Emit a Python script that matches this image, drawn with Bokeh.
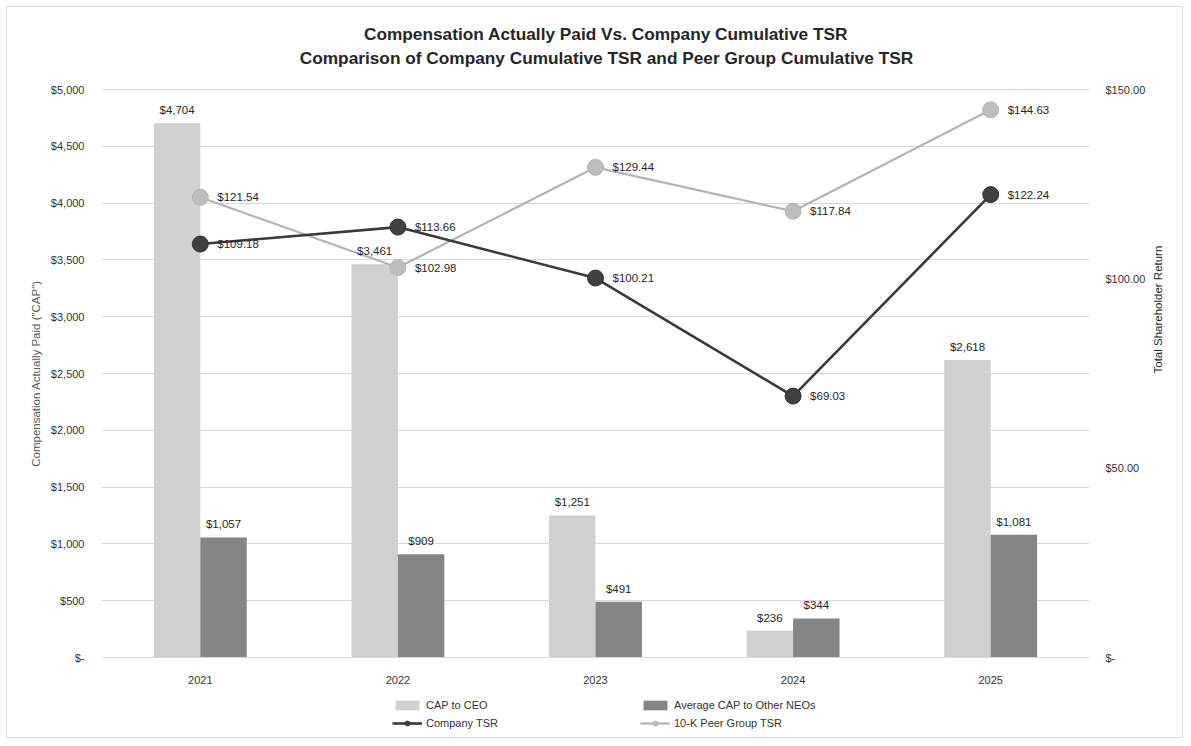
import math
from bokeh.plotting import figure
from bokeh.models import (ColumnDataSource, FactorRange, Range1d, LinearAxis, FixedTicker,
                          CustomJSTickFormatter, Legend, LegendItem, Label, LabelSet)
from bokeh.transform import dodge
from bokeh.core.properties import value
from bokeh.embed import file_html
from bokeh.resources import INLINE

# ---- data ----
years = ["2021", "2022", "2023", "2024", "2025"]
cap_ceo = [4704, 3461, 1251, 236, 2618]
cap_neo = [1057, 909, 491, 344, 1081]
company_tsr = [109.18, 113.66, 100.21, 69.03, 122.24]
peer_tsr = [121.54, 102.98, 129.44, 117.84, 144.63]
left_ticks = [0, 500, 1000, 1500, 2000, 2500, 3000, 3500, 4000, 4500, 5000]
right_ticks = [0, 50, 100, 150]
title_1 = "Compensation Actually Paid Vs. Company Cumulative TSR"
title_2 = "Comparison of Company Cumulative TSR and Peer Group Cumulative TSR"

FONT = "Liberation Sans, Arial, sans-serif"
C_CEO, C_NEO = "#d0d0d0", "#858585"
C_COMP, C_COMP_M = "#3a3a3a", "#404040"
C_PEER, C_PEER_M = "#b4b4b4", "#bdbdbd"

# ---- layout geometry (pixels) ----
W, H = 1177, 732
FR_TOP, FR_BOT = 0, 732          # frame spans whole inner height
Y0_PX, YMAX_PX = 650, 82         # where 0 and the top tick sit inside the figure
px_per_left = (Y0_PX - YMAX_PX) / left_ticks[-1]
px_per_right = (Y0_PX - YMAX_PX) / right_ticks[-1]
left_lo = -(FR_BOT - Y0_PX) / px_per_left
left_hi = left_ticks[-1] + (YMAX_PX - FR_TOP) / px_per_left
right_lo = -(FR_BOT - Y0_PX) / px_per_right
right_hi = right_ticks[-1] + (YMAX_PX - FR_TOP) / px_per_right

src = ColumnDataSource(dict(
    years=years, cap_ceo=cap_ceo, cap_neo=cap_neo,
    company_tsr=company_tsr, peer_tsr=peer_tsr,
    ceo_lbl=[f"${v:,}" for v in cap_ceo],
    neo_lbl=[f"${v:,}" for v in cap_neo],
    comp_lbl=[f"${v:.2f}" for v in company_tsr],
    peer_lbl=[f"${v:.2f}" for v in peer_tsr],
))

p = figure(width=W, height=H, x_range=FactorRange(*years, range_padding=0),
           y_range=Range1d(left_lo, left_hi), output_backend="svg", toolbar_location=None,
           min_border_left=94, min_border_right=95, min_border_top=0, min_border_bottom=0)
p.styles = {"margin": "6px", "border": "1px solid #d9d9d9"}
p.outline_line_color = None
p.background_fill_color = "white"
p.border_fill_color = "white"
p.extra_y_ranges = {"tsr": Range1d(right_lo, right_hi)}

bw = 0.235
r_ceo = p.vbar(x=dodge("years", -bw / 2, range=p.x_range), top="cap_ceo", width=bw,
               source=src, fill_color=C_CEO, line_color=None)
r_neo = p.vbar(x=dodge("years", bw / 2, range=p.x_range), top="cap_neo", width=bw,
               source=src, fill_color=C_NEO, line_color=None)

r_pl = p.line(x="years", y="peer_tsr", source=src, y_range_name="tsr",
              line_color=C_PEER, line_width=2.2)
r_ps = p.scatter(x="years", y="peer_tsr", source=src, y_range_name="tsr", size=16,
                 fill_color=C_PEER_M, line_color=C_PEER)
r_cl = p.line(x="years", y="company_tsr", source=src, y_range_name="tsr",
              line_color=C_COMP, line_width=2.6)
r_cs = p.scatter(x="years", y="company_tsr", source=src, y_range_name="tsr", size=16,
                 fill_color=C_COMP_M, line_color="#333333")

lblkw = dict(text_font=value(FONT), text_font_size="11.5px", text_color="#262626")
p.add_layout(LabelSet(x=dodge("years", -bw / 2, range=p.x_range), y="cap_ceo", text="ceo_lbl",
                      source=src, text_align="center", text_baseline="bottom", y_offset=7, **lblkw))
p.add_layout(LabelSet(x=dodge("years", bw / 2, range=p.x_range), y="cap_neo", text="neo_lbl",
                      source=src, text_align="center", text_baseline="bottom", y_offset=7, **lblkw))
p.add_layout(LabelSet(x="years", y="company_tsr", text="comp_lbl", y_range_name="tsr",
                      source=src, text_align="left", text_baseline="middle", x_offset=17, **lblkw))
p.add_layout(LabelSet(x="years", y="peer_tsr", text="peer_lbl", y_range_name="tsr",
                      source=src, text_align="left", text_baseline="middle", x_offset=17, **lblkw))

# left axis
p.yaxis.ticker = FixedTicker(ticks=left_ticks)
p.yaxis.formatter = CustomJSTickFormatter(code="""
    if (tick == 0) return '$-';
    return '$' + String(Math.round(tick)).replace(/\\B(?=(\\d{3})+(?!\\d))/g, ',');
""")
p.yaxis.axis_label = 'Compensation Actually Paid ("CAP")'
ax = p.yaxis[0]
ax.axis_line_color = None
ax.major_tick_line_color = None
ax.minor_tick_line_color = None
ax.major_label_standoff = 11
ax.axis_label_standoff = 6
ax.major_label_text_font = FONT
ax.major_label_text_font_size = "11px"
ax.major_label_text_color = "#333333"
ax.axis_label_text_font = FONT
ax.axis_label_text_font_size = "11.5px"
ax.axis_label_text_font_style = "normal"
ax.axis_label_text_color = "#595959"

# right axis
rax = LinearAxis(y_range_name="tsr", ticker=FixedTicker(ticks=right_ticks),
                 formatter=CustomJSTickFormatter(code="""
    if (tick == 0) return '$-';
    return '$' + tick.toFixed(2);
"""), axis_label="Total Shareholder Return")
rax.axis_line_color = None
rax.major_tick_line_color = None
rax.minor_tick_line_color = None
rax.major_label_standoff = 10
rax.axis_label_standoff = 10
rax.axis_label_orientation = math.pi / 2
rax.major_label_text_font = FONT
rax.major_label_text_font_size = "11px"
rax.major_label_text_color = "#333333"
rax.axis_label_text_font = FONT
rax.axis_label_text_font_size = "11.5px"
rax.axis_label_text_font_style = "normal"
rax.axis_label_text_color = "#262626"
p.add_layout(rax, "right")

# category axis sits on the zero line
xa = p.xaxis[0]
xa.fixed_location = 0
xa.axis_line_color = "#d9d9d9"
xa.major_tick_line_color = None
xa.minor_tick_line_color = None
xa.major_label_standoff = 12
xa.major_label_text_font = FONT
xa.major_label_text_font_size = "11px"
xa.major_label_text_color = "#333333"

p.xgrid.grid_line_color = None
p.ygrid.ticker = FixedTicker(ticks=left_ticks)
p.ygrid.grid_line_color = "#d9d9d9"
p.ygrid.grid_line_width = 1

# titles (frame-relative screen units, y measured from frame bottom)
for txt, xx, yy in [(title_1, 504.5, 706), (title_2, 505, 682)]:
    p.add_layout(Label(x=xx, y=yy, x_units="screen", y_units="screen", text=txt,
                       text_align="center", text_baseline="middle", text_font=FONT,
                       text_font_size="17.25px", text_font_style="bold", text_color="#262626"))

legend = Legend(items=[
    LegendItem(label="CAP to CEO", renderers=[r_ceo]),
    LegendItem(label="Average CAP to Other NEOs", renderers=[r_neo]),
    LegendItem(label="Company TSR", renderers=[r_cl, r_cs]),
    LegendItem(label="10-K Peer Group TSR", renderers=[r_pl, r_ps]),
], orientation="horizontal", ncols=2, location=(291, 9),
    glyph_width=30, glyph_height=12, label_width=210, label_height=14,
    label_standoff=4, spacing=4, padding=0, margin=0,
    border_line_color=None, background_fill_alpha=0,
    label_text_font=FONT, label_text_font_size="11px", label_text_color="#333333")
p.add_layout(legend, "center")

open("out.html", "w").write(file_html(p, INLINE))
